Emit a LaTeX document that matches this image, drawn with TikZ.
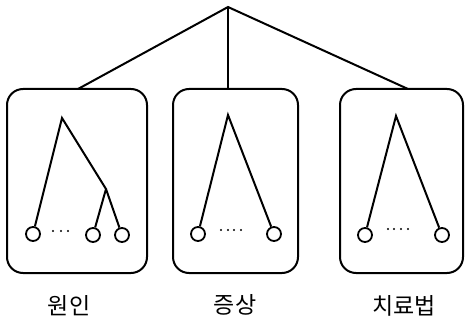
\documentclass[tikz,border=0pt]{standalone}
\usepackage{fontspec}
\newfontfamily\kr{Noto Sans CJK KR}
\begin{document}
\begin{tikzpicture}[x=1pt,y=-1pt,
  ln/.style={line width=2pt},
  panel/.style={draw,line width=2pt,rounded corners=16pt},
  leaf/.style={circle,draw,line width=1.8pt,minimum size=14pt,inner sep=0pt},
  dotz/.style={circle,fill,minimum size=2.4pt,inner sep=0pt},
  lab/.style={font=\kr\fontsize{23}{27}\selectfont,inner sep=0pt}]
\useasboundingbox (0,0) rectangle (465,323);
% panels
\draw[panel] (7,89) rectangle (147,273);
\draw[panel] (173,89) rectangle (298,273);
\draw[panel] (340,89) rectangle (463,273);
% top
\coordinate (top) at (228,7);
\coordinate (p1) at (78,89);
\coordinate (p2) at (228,89);
\coordinate (p3) at (408,89);
\draw[ln] (p1) -- (top) -- (p3);
\draw[ln] (top) -- (p2);
% panel 1 tree
\coordinate (a1) at (62,118);
\coordinate (b1) at (106,189);
\node[leaf] (l11) at (33,234) {};
\node[leaf] (l12) at (93,235) {};
\node[leaf] (l13) at (122,235) {};
\draw[ln] (l11) -- (a1) -- (b1) -- (l12);
\draw[ln] (b1) -- (l13);
\foreach \x [count=\i] in {53,61,68} \node[dotz] (d1\i) at (\x,231) {};
% panel 2 tree
\coordinate (a2) at (228,115);
\node[leaf] (l21) at (198,234) {};
\node[leaf] (l22) at (274,234) {};
\draw[ln] (l21) -- (a2) -- (l22);
\foreach \x [count=\i] in {221,228,234,241} \node[dotz] (d2\i) at (\x,230) {};
% panel 3 tree
\coordinate (a3) at (396,116);
\node[leaf] (l31) at (365,235) {};
\node[leaf] (l32) at (442,235) {};
\draw[ln] (l31) -- (a3) -- (l32);
\foreach \x [count=\i] in {388,394,401,408} \node[dotz] (d3\i) at (\x,229) {};
% labels
\node[lab] (t1) at (69,306) {원인};
\node[lab] (t2) at (235,305) {증상};
\node[lab] (t3) at (404,306) {치료법};
\end{tikzpicture}
\end{document}
